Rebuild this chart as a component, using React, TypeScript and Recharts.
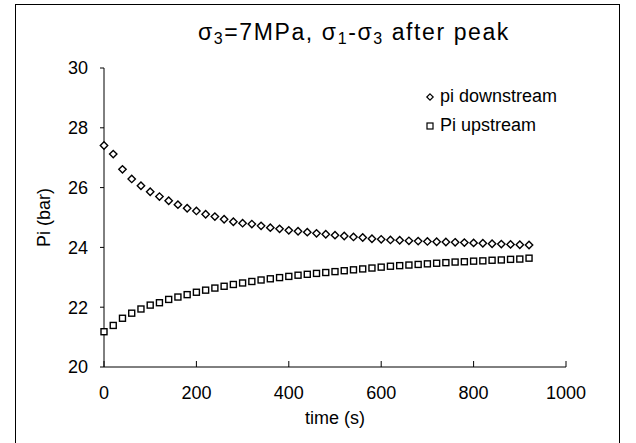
import React from 'react';
import { ScatterChart, Scatter, XAxis, YAxis, Legend } from 'recharts';

// sample times (s), one reading every 20 s
const times = [
  0, 20, 40, 60, 80, 100, 120, 140, 160, 180, 200, 220, 240, 260, 280, 300,
  320, 340, 360, 380, 400, 420, 440, 460, 480, 500, 520, 540, 560, 580, 600,
  620, 640, 660, 680, 700, 720, 740, 760, 780, 800, 820, 840, 860, 880, 900, 920,
];

// pore pressure downstream (bar)
const downstream = [
  27.41, 27.12, 26.61, 26.29, 26.06, 25.86, 25.7, 25.56, 25.43, 25.31, 25.22,
  25.11, 25.03, 24.94, 24.86, 24.81, 24.78, 24.72, 24.66, 24.62, 24.57, 24.54,
  24.51, 24.47, 24.44, 24.41, 24.38, 24.35, 24.33, 24.29, 24.27, 24.25, 24.24,
  24.22, 24.21, 24.2, 24.19, 24.18, 24.17, 24.16, 24.15, 24.14, 24.12, 24.11,
  24.1, 24.09, 24.08,
];

// pore pressure upstream (bar)
const upstream = [
  21.18, 21.39, 21.63, 21.8, 21.94, 22.07, 22.15, 22.26, 22.34, 22.42, 22.5,
  22.57, 22.64, 22.7, 22.76, 22.81, 22.86, 22.91, 22.95, 22.99, 23.03, 23.07,
  23.1, 23.13, 23.16, 23.19, 23.22, 23.25, 23.28, 23.31, 23.34, 23.37, 23.39,
  23.41, 23.43, 23.45, 23.47, 23.49, 23.51, 23.52, 23.54, 23.55, 23.57, 23.58,
  23.6, 23.61, 23.64,
];

const xTicks = [0, 200, 400, 600, 800, 1000];
const yTicks = [20, 22, 24, 26, 28, 30];

const downData = times.map((t, i) => ({ t, p: downstream[i] }));
const upData = times.map((t, i) => ({ t, p: upstream[i] }));

const FONT = '"Liberation Sans", Arial, sans-serif';

const diamondPath = (cx: number, cy: number, r: number) =>
  `M${cx},${cy - r}L${cx + r},${cy}L${cx},${cy + r}L${cx - r},${cy}Z`;

const DiamondDot = (props: any) => {
  const { cx, cy } = props;
  if (cx == null || cy == null) return null;
  return <path d={diamondPath(cx, cy, 3.7)} fill="#fff" stroke="#000" strokeWidth={1.4} />;
};

const SquareDot = (props: any) => {
  const { cx, cy } = props;
  if (cx == null || cy == null) return null;
  return <rect x={cx - 3} y={cy - 3} width={6} height={6} fill="#fff" stroke="#000" strokeWidth={1.4} />;
};

const renderLegend = () => (
  <div style={{ fontFamily: FONT, fontSize: 18, color: '#000', lineHeight: '29px' }}>
    <div style={{ display: 'flex', alignItems: 'center' }}>
      <svg width={12} height={12} style={{ marginRight: 4 }}>
        <path d={diamondPath(6, 6, 3.2)} fill="#fff" stroke="#000" strokeWidth={1.2} />
      </svg>
      <span>pi downstream</span>
    </div>
    <div style={{ display: 'flex', alignItems: 'center' }}>
      <svg width={12} height={12} style={{ marginRight: 4 }}>
        <rect x={3} y={3} width={6} height={6} fill="#fff" stroke="#000" strokeWidth={1.2} />
      </svg>
      <span>Pi upstream</span>
    </div>
  </div>
);

const YTitle = (props: any) => {
  const vb = props.viewBox || {};
  const x = vb.x + 0;
  const y = vb.y + vb.height / 2;
  return (
    <text
      x={x}
      y={y}
      transform={`rotate(-90 ${x} ${y})`}
      textAnchor="middle"
      dominantBaseline="central"
      fontSize={18}
      fontFamily={FONT}
      fill="#000"
    >
      Pi (bar)
    </text>
  );
};

const subStyle: React.CSSProperties = { fontSize: 16, verticalAlign: '-4px' };

const App: React.FC = () => {
  return (
    <div style={{ position: 'absolute', left: 0, top: 0, width: 636, height: 443, background: '#fff', overflow: 'hidden' }}>
      <div
        style={{
          position: 'absolute',
          left: 15,
          top: 4,
          width: 605,
          height: 439,
          border: '1px solid #000',
          borderBottom: 'none',
          boxSizing: 'border-box',
        }}
      />
      <div
        style={{
          position: 'absolute',
          left: 104,
          top: 17,
          width: 500,
          textAlign: 'center',
          fontFamily: FONT,
          fontSize: 23,
          letterSpacing: 1.6,
          lineHeight: '30px',
          color: '#000',
          whiteSpace: 'nowrap',
        }}
      >
        σ<sub style={subStyle}>3</sub>=7MPa, σ<sub style={subStyle}>1</sub>-σ<sub style={subStyle}>3</sub> after peak
      </div>
      <div style={{ position: 'absolute', left: 0, top: 0 }}>
        <ScatterChart width={636} height={443} margin={{ top: 68, right: 70, bottom: 46, left: 44 }}>
          <XAxis
            type="number"
            dataKey="t"
            domain={[0, 1000]}
            ticks={xTicks}
            interval={0}
            stroke="#000"
            tickSize={-6}
            tickMargin={25}
            height={30}
            tick={{ fill: '#000', fontSize: 18, fontFamily: FONT }}
            label={{ value: 'time (s)', position: 'bottom', offset: 14, fill: '#000', fontSize: 18, fontFamily: FONT }}
          />
          <YAxis
            type="number"
            dataKey="p"
            domain={[20, 30]}
            ticks={yTicks}
            interval={0}
            stroke="#000"
            width={60}
            tickSize={4}
            tickMargin={12}
            tick={{ fill: '#000', fontSize: 18, fontFamily: FONT }}
            label={<YTitle />}
          />
          <Legend
            layout="horizontal"
            align="center"
            verticalAlign="middle"
            content={renderLegend}
            wrapperStyle={{ left: 424, top: 82, width: 200, right: 'auto', bottom: 'auto' }}
          />
          <Scatter name="pi downstream" data={downData} shape={<DiamondDot />} isAnimationActive={false} />
          <Scatter name="Pi upstream" data={upData} shape={<SquareDot />} isAnimationActive={false} />
        </ScatterChart>
      </div>
    </div>
  );
};

export default App;
